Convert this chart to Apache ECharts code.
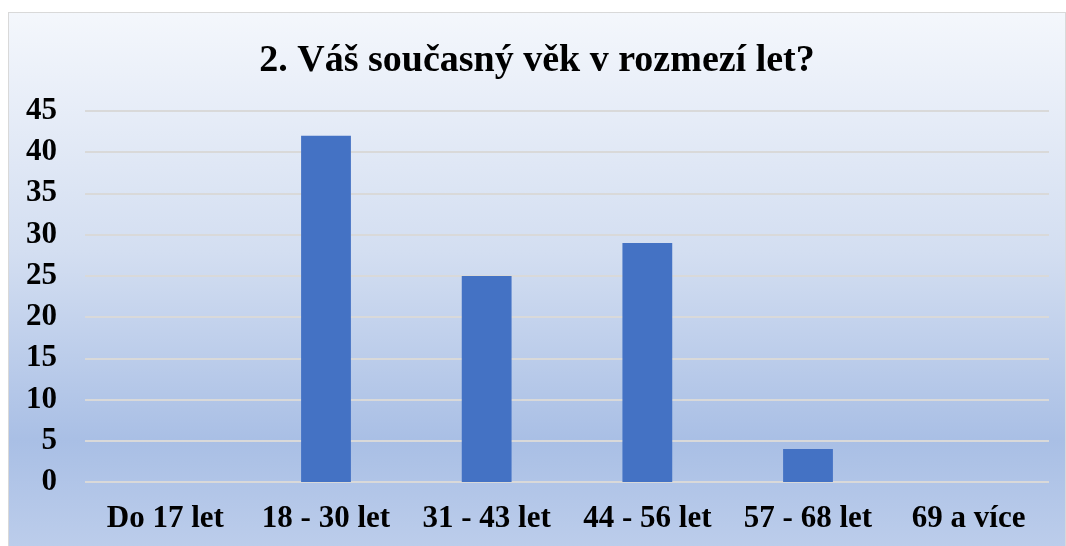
<!DOCTYPE html>
<html>
<head>
<meta charset="utf-8">
<script src="https://cdn.jsdelivr.net/npm/echarts@6/dist/echarts.min.js"></script>
<style>
  html, body { margin: 0; padding: 0; background: #fff; }
  #panel {
    position: absolute;
    left: 8px;
    top: 12px;
    width: 1056px;
    height: 534px;
    border: 1px solid #d9d9d9;
    border-bottom: none;
  }
  #chart { width: 1056px; height: 534px; }
</style>
</head>
<body>
<div id="panel"><div id="chart"></div></div>
<script>
const categories = ["Do 17 let", "18 - 30 let", "31 - 43 let", "44 - 56 let", "57 - 68 let", "69 a více"]
const values = [0, 42, 25, 29, 4, 0]
const yTicks = { min: 0, max: 45, interval: 5 }

const chart = echarts.init(document.getElementById('chart'))
const font = "'Liberation Serif', 'Times New Roman', serif"
chart.setOption({
  backgroundColor: {
    type: 'linear', x: 0, y: 0, x2: 0, y2: 1,
    colorStops: [
      { offset: 0, color: '#f4f7fc' },
      { offset: 0.45, color: '#d3def1' },
      { offset: 0.8, color: '#a9bfe5' },
      { offset: 1, color: '#bccdeb' }
    ]
  },
  title: {
    text: "2. Váš současný věk v rozmezí let?",
    left: 'center',
    top: 24,
    textStyle: { fontFamily: font, fontSize: 38, fontWeight: 'bold', color: '#000' }
  },
  grid: { left: 76, right: 16, top: 98, bottom: 65 },
  xAxis: {
    type: 'category',
    data: categories,
    axisLine: { show: false },
    axisTick: { show: false },
    axisLabel: { interval: 0, fontFamily: font, fontSize: 31, fontWeight: 'bold', color: '#000', margin: 21 }
  },
  yAxis: {
    type: 'value',
    min: yTicks.min,
    max: yTicks.max,
    interval: yTicks.interval,
    axisLine: { show: false },
    axisTick: { show: false },
    splitLine: { lineStyle: { color: '#d9d9d9', width: 2 } },
    axisLabel: { fontFamily: font, fontSize: 31, fontWeight: 'bold', color: '#000', margin: 28 }
  },
  series: [{
    type: 'bar',
    data: values,
    barWidth: '31%',
    itemStyle: { color: '#4472c4' }
  }]
})
</script>
</body>
</html>
